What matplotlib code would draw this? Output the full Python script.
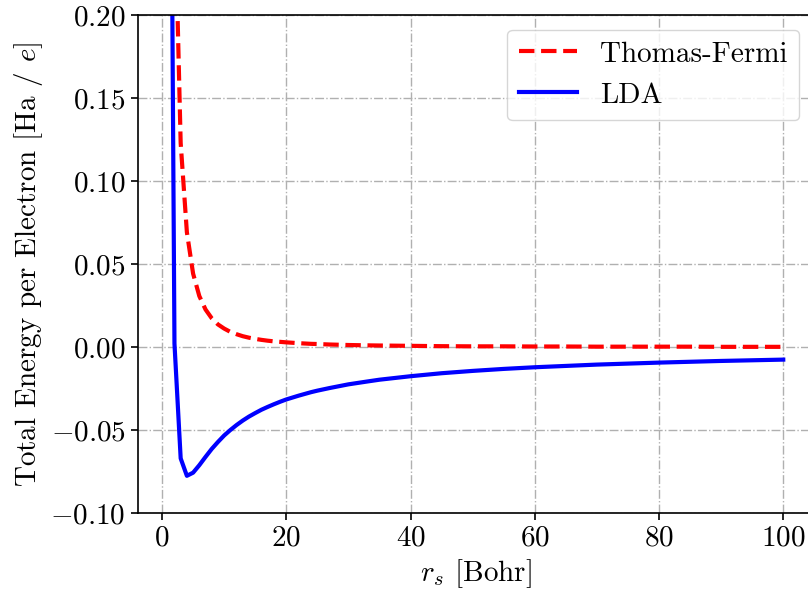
import numpy as np
import matplotlib
matplotlib.use('Agg')
import matplotlib.pyplot as plt

plt.rcParams['font.family'] = 'serif'
plt.rcParams['font.serif'] = ['cmr10']
plt.rcParams['mathtext.fontset'] = 'cm'
plt.rcParams['axes.formatter.use_mathtext'] = True
plt.rcParams['axes.unicode_minus'] = True

# values
rs = [1, 2, 3, 4, 5, 6, 7, 8, 9, 10, 11, 12, 13, 14, 15, 16, 17, 18, 19,
      20, 22, 24, 25, 27, 30, 33, 35, 40, 45, 50, 55, 60, 65, 70, 75, 80,
      85, 90, 95, 100]
e_tf = [1.105, 0.2763, 0.1228, 0.0691, 0.0442, 0.0307, 0.0226, 0.0173,
        0.0136, 0.0111, 0.0091, 0.0077, 0.0065, 0.0056, 0.0049, 0.0043,
        0.0038, 0.0034, 0.0031, 0.0028, 0.0023, 0.0019, 0.0018, 0.0015,
        0.0012, 0.0010, 0.0009, 0.0007, 0.0005, 0.0004, 0.0004, 0.0003,
        0.0003, 0.0002, 0.0002, 0.0002, 0.0002, 0.0001, 0.0001, 0.0001]
e_lda = [0.587, 0.0021, -0.0671, -0.0776, -0.0757, -0.0712, -0.0662,
         -0.0614, -0.0572, -0.0533, -0.0500, -0.0470, -0.0443, -0.0419,
         -0.0398, -0.0378, -0.0361, -0.0345, -0.0330, -0.0316, -0.0293,
         -0.0272, -0.0263, -0.0247, -0.0225, -0.0208, -0.0197, -0.0176,
         -0.0158, -0.0144, -0.0132, -0.0122, -0.0114, -0.0106, -0.0100,
         -0.0094, -0.0089, -0.0084, -0.0080, -0.0076]

fs = 21
fig = plt.figure(figsize=(8.08, 5.92), dpi=100)
ax = fig.add_axes([137.5/808, 1-513/592, (814-137.5)/808, (513-15)/592])
ax.plot(rs, e_tf, '--', color='red', lw=3, label='Thomas-Fermi')
ax.plot(rs, e_lda, '-', color='blue', lw=3, label='LDA')
ax.set_ylim(-0.1, 0.2)
ax.set_xlim(-3.95, 104.95)
ax.set_yticks(np.arange(-0.1, 0.2001, 0.05))
ax.set_xticks([0, 20, 40, 60, 80, 100])
ax.grid(True, linestyle='-.', color='#b0b0b0', lw=1.0)
ax.tick_params(labelsize=fs, width=1.2, length=5)
for s in ax.spines.values():
    s.set_linewidth(1.2)
ax.set_xlabel(r'$r_s$ [Bohr]', fontsize=fs)
ax.set_ylabel(r'Total Energy per Electron [Ha / $e$]', fontsize=fs)
ax.legend(loc='upper right', fontsize=fs, handlelength=2.0)
fig.savefig('out.png', dpi=100)
